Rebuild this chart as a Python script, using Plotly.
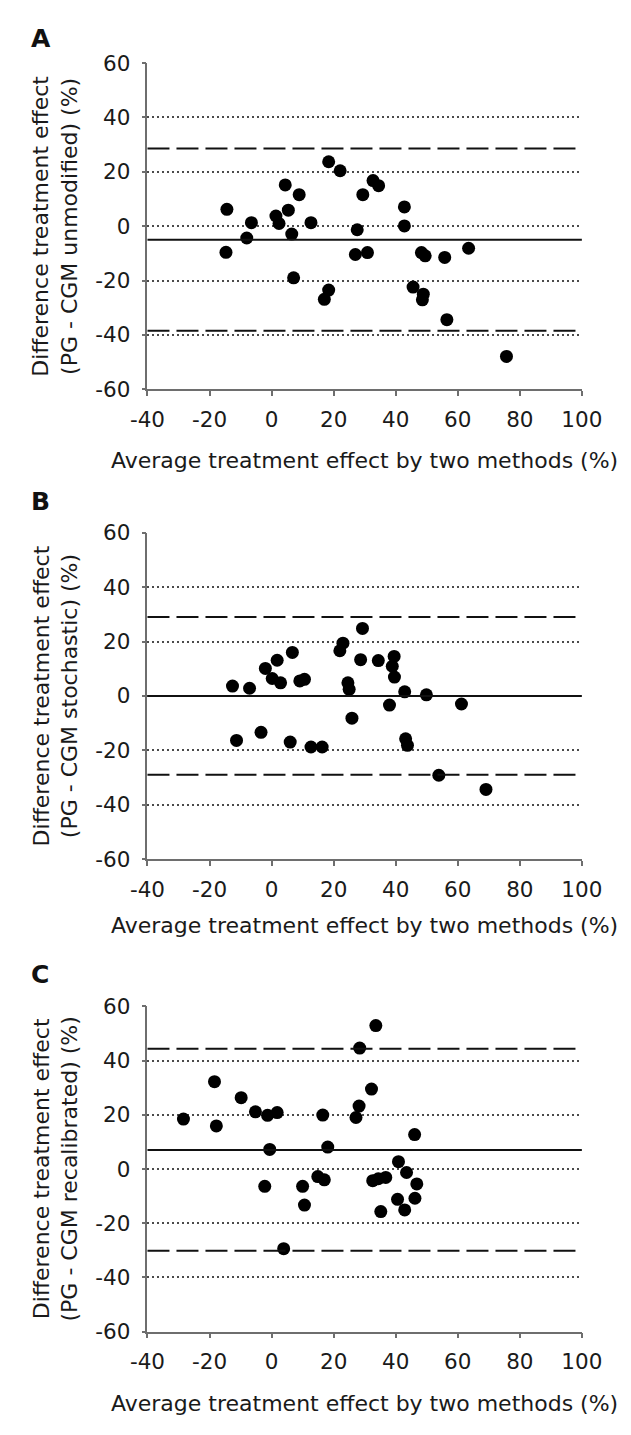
import plotly.graph_objects as go

# ---------------- data ----------------
panel_letters = ["A", "B", "C"]
y_titles = ["Difference treatment effect<br>(PG - CGM unmodified) (%)",
            "Difference treatment effect<br>(PG - CGM stochastic) (%)",
            "Difference treatment effect<br>(PG - CGM recalibrated) (%)"]
x_title = "Average treatment effect by two methods (%)"

A_x = [-14.4, -14.7, -8.0, -6.5, 1.4, 2.4, 4.4, 5.4, 6.5, 8.9, 12.7, 18.4, 22.1, 27.6, 29.4, 32.7, 34.5,
       42.8, 42.8, 48.3, 49.5, 55.8, 63.5, 27.0, 30.9, 7.1, 17.0, 18.4, 45.6, 48.9, 48.6, 56.5, 75.7]
A_y = [6.2, -9.6, -4.35, 1.3, 3.75, 1.0, 15.2, 5.9, -2.9, 11.6, 1.3, 23.7, 20.4, -1.3, 11.6, 16.8, 14.9,
       7.1, 0.1, -9.7, -10.9, -11.5, -8.1, -10.4, -9.7, -19.0, -26.9, -23.5, -22.4, -25.0, -27.1, -34.4, -47.9]

B_x = [-12.6, -7.1, -2.0, 0.2, 1.8, 2.9, 6.7, 9.1, 10.6, 22.0, 23.0, 29.3, 28.7, 24.6, 25.0, 34.4, 39.5,
       38.9, 39.6, 38.0, 42.9, 49.9, 61.2, 25.9, -11.3, -3.4, 6.0, 12.7, 16.3, 43.2, 43.8, 53.9, 69.1]
B_y = [3.6, 2.8, 10.1, 6.4, 13.1, 4.8, 16.0, 5.5, 6.1, 16.6, 19.4, 24.8, 13.3, 4.8, 2.4, 13.0, 14.5,
       10.9, 6.9, -3.4, 1.5, 0.4, -3.0, -8.2, -16.4, -13.4, -17.0, -18.8, -18.8, -15.8, -18.2, -29.2, -34.4]

C_x = [-28.4, -18.4, -17.8, -9.8, -5.2, -1.3, 1.8, -0.6, 16.5, 18.1, 27.2, 28.2, 28.4, 32.2, 33.6, 40.9,
       46.1, -2.2, 10.0, 10.6, 14.9, 17.0, 3.9, 32.6, 34.4, 36.8, 43.5, 46.8, 40.6, 46.2, 35.2, 42.9]
C_y = [18.4, 32.2, 15.9, 26.3, 21.1, 19.8, 20.8, 7.2, 19.9, 8.1, 19.0, 23.2, 44.6, 29.5, 52.9, 2.7,
       12.7, -6.4, -6.4, -13.3, -2.8, -4.0, -29.4, -4.3, -3.6, -3.1, -1.3, -5.5, -11.2, -10.8, -15.7, -15.1]

mean_diff = [-5.0, 0.0, 7.0]
upper_loa = [28.6, 29.0, 44.4]
lower_loa = [-38.5, -29.0, -30.2]

x_ticks = [-40, -20, 0, 20, 40, 60, 80, 100]
y_ticks = [-60, -40, -20, 0, 20, 40, 60]

# ---------------- layout geometry (pixels) ----------------
W, H = 631, 1435
FONT = "DejaVu Sans, Arial, sans-serif"
plot_left, plot_right = 138, 601
panels_px = [(52, 384), (530, 862), (1012, 1343)]  # (top, bottom) of plot area
xtitle_px = [456, 930, 1416]
letter_px = [27, 498, 980]

fig = go.Figure()
xs = [A_x, B_x, C_x]
ys = [A_y, B_y, C_y]

annotations = []
shapes = []
for i in range(3):
    sfx = "" if i == 0 else str(i + 1)
    top, bot = panels_px[i]
    fig.add_trace(go.Scatter(
        x=xs[i], y=ys[i], mode="markers",
        marker=dict(color="black", size=13, line=dict(width=0)),
        xaxis="x" + sfx, yaxis="y" + sfx, showlegend=False, cliponaxis=False))
    dom_y = [1 - bot / H, 1 - top / H]
    fig.layout["xaxis" + sfx] = dict(
        domain=[plot_left / W, plot_right / W], range=[-40, 100], anchor="y" + sfx,
        tickvals=x_ticks, ticktext=[str(v) for v in x_ticks],
        showgrid=False, zeroline=False, showline=True, linecolor="#6e6e6e", linewidth=1.5,
        ticks="outside", ticklen=5, tickcolor="#6e6e6e", tickwidth=1.5,
        tickfont=dict(family=FONT, size=21.5, color="#1a1a1a"), ticklabelstandoff=5)
    fig.layout["yaxis" + sfx] = dict(
        domain=dom_y, range=[-60, 60], anchor="x" + sfx,
        tickvals=y_ticks, ticktext=[str(v) for v in y_ticks],
        showgrid=True, gridcolor="#4a4a4a", gridwidth=1.5, griddash="2px,3px",
        zeroline=False, showline=True, linecolor="#6e6e6e", linewidth=1.5,
        ticks="outside", ticklen=4, tickcolor="#6e6e6e", tickwidth=1.5,
        tickfont=dict(family=FONT, size=21.5, color="#1a1a1a"), ticklabelstandoff=7)
    # mean line and limits of agreement
    shapes.append(dict(type="line", xref="x" + sfx + " domain", yref="y" + sfx,
                       x0=0, x1=1, y0=mean_diff[i], y1=mean_diff[i],
                       line=dict(color="#111111", width=2)))
    for v in (upper_loa[i], lower_loa[i]):
        shapes.append(dict(type="line", xref="x" + sfx + " domain", yref="y" + sfx,
                           x0=0, x1=1, y0=v, y1=v,
                           line=dict(color="#111111", width=2, dash="22px,7px")))
    # titles
    annotations.append(dict(text=x_title, xref="paper", yref="paper",
                            x=(plot_left + plot_right) / 2 / W, y=1 - xtitle_px[i] / H,
                            xanchor="center", yanchor="middle", showarrow=False,
                            font=dict(family=FONT, size=22, color="#1a1a1a")))
    annotations.append(dict(text=y_titles[i], xref="paper", yref="paper",
                            x=40 / W, y=1 - (top + bot) / 2 / H, textangle=-90,
                            xanchor="center", yanchor="middle", showarrow=False,
                            font=dict(family=FONT, size=22, color="#1a1a1a")))
    annotations.append(dict(text="<b>" + panel_letters[i] + "</b>", xref="paper", yref="paper",
                            x=12 / W, y=1 - letter_px[i] / H, xanchor="left", yanchor="middle",
                            showarrow=False, font=dict(family=FONT, size=25, color="#111111")))

fig.update_layout(width=W, height=H, autosize=False,
                  margin=dict(l=0, r=0, t=0, b=0),
                  paper_bgcolor="white", plot_bgcolor="white",
                  annotations=annotations, shapes=shapes)

fig.write_html("out.html")
